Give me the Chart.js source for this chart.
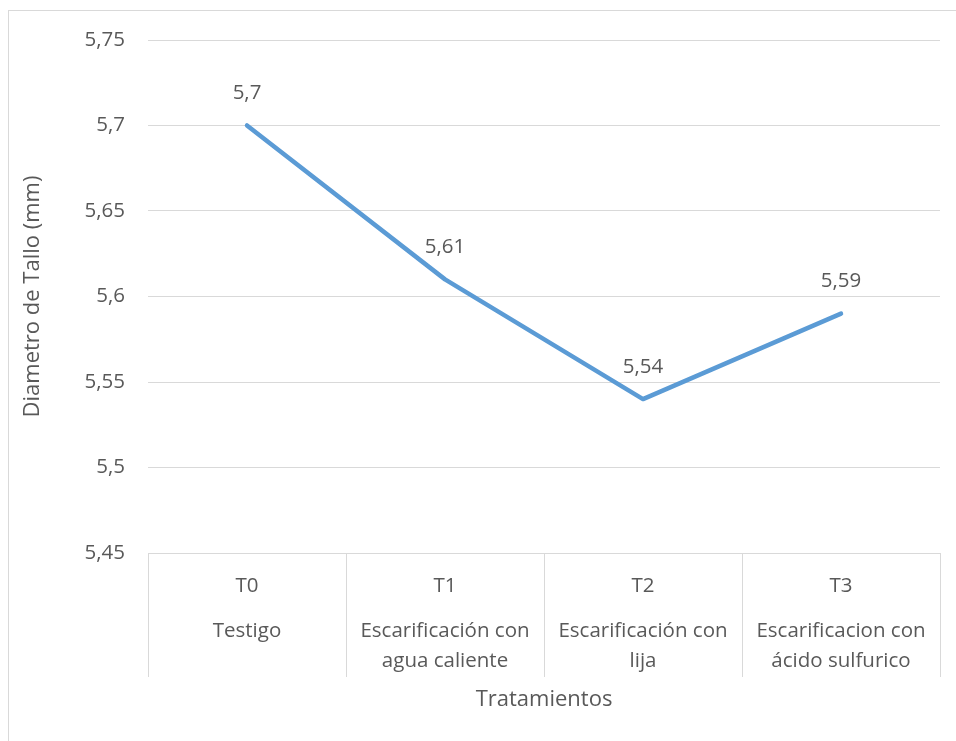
<!DOCTYPE html>
<html>
<head>
<meta charset="utf-8">
<script src="https://cdn.jsdelivr.net/npm/chart.js@4.4.1/dist/chart.umd.min.js"></script>
<style>
  body { margin: 0; background: #fff; }
  #wrap { width: 956px; height: 741px; }
</style>
</head>
<body>
<div id="wrap"><canvas id="grafico" width="956" height="741"></canvas></div>
<script>
// Datos del gráfico
const codigos = ['T0', 'T1', 'T2', 'T3'];
const tratamientos = [
  ['Testigo'],
  ['Escarificación con', 'agua caliente'],
  ['Escarificación con', 'lija'],
  ['Escarificacion con', 'ácido sulfurico']
];
const diametro = [5.7, 5.61, 5.54, 5.59];
const ejeY = { min: 5.45, max: 5.75, paso: 0.05 };

const gris = '#595959';
const lineaGris = '#D9D9D9';
const familia = "'Open Sans', sans-serif";
const fuente = { family: familia, size: 20.5 };
const fuenteTitulo = { family: familia, size: 22 };

const coma = v => Number(v.toFixed(2)).toString().replace('.', ',');

// etiqueta de dos niveles: código arriba y nombre debajo (renglones de 15px)
const etiquetas = codigos.map((c, i) => [c, '', ''].concat(tratamientos[i].flatMap((t, j) => j ? ['', t] : [t])));

// marco exterior del gráfico
const marco = {
  id: 'marco',
  beforeDraw(chart) {
    const ctx = chart.ctx;
    ctx.save();
    ctx.fillStyle = '#fff';
    ctx.fillRect(0, 0, chart.width, chart.height);
    ctx.strokeStyle = lineaGris;
    ctx.lineWidth = 1;
    ctx.strokeRect(8.5, 10.5, 1000, 1000);
    ctx.restore();
  }
};

// valores encima de cada punto
const valores = {
  id: 'valores',
  afterDatasetsDraw(chart) {
    const ctx = chart.ctx;
    const meta = chart.getDatasetMeta(0);
    ctx.save();
    ctx.font = fuente.size + 'px ' + fuente.family;
    ctx.fillStyle = gris;
    ctx.textAlign = 'center';
    ctx.textBaseline = 'middle';
    meta.data.forEach((p, i) => {
      ctx.fillText(coma(diametro[i]), p.x, p.y - 32);
    });
    ctx.restore();
  }
};

new Chart(document.getElementById('grafico'), {
  type: 'line',
  data: {
    labels: etiquetas,
    datasets: [{
      data: diametro,
      borderColor: '#5B9BD5',
      borderWidth: 4.5,
      borderCapStyle: 'round',
      borderJoinStyle: 'round',
      pointRadius: 0,
      tension: 0,
      fill: false
    }]
  },
  options: {
    responsive: false,
    animation: false,
    layout: { padding: { left: 0, right: 16, top: 40, bottom: 0 } },
    plugins: { legend: { display: false }, tooltip: { enabled: false } },
    scales: {
      x: {
        offset: true,
        afterFit: s => { s.height = 188; },
        grid: { offset: true, drawOnChartArea: false, drawTicks: true, tickLength: 124, color: lineaGris },
        border: { display: true, color: lineaGris },
        ticks: {
          color: gris, font: { family: familia, size: 20.5, lineHeight: '15px' },
          padding: -98.5, autoSkip: false, maxRotation: 0, minRotation: 0
        },
        title: { display: true, text: 'Tratamientos', color: gris, font: fuenteTitulo, padding: { top: 0, bottom: 28 } }
      },
      y: {
        min: ejeY.min,
        max: ejeY.max,
        afterFit: s => { s.width = 148; },
        grid: { color: lineaGris, drawTicks: false },
        border: { display: false },
        ticks: { stepSize: ejeY.paso, color: gris, font: fuente, padding: 23, callback: v => coma(v) },
        title: { display: true, text: 'Diametro de Tallo (mm)', color: gris, font: fuenteTitulo, padding: { top: 20, bottom: 0 } }
      }
    }
  },
  plugins: [marco, valores]
});
</script>
</body>
</html>
